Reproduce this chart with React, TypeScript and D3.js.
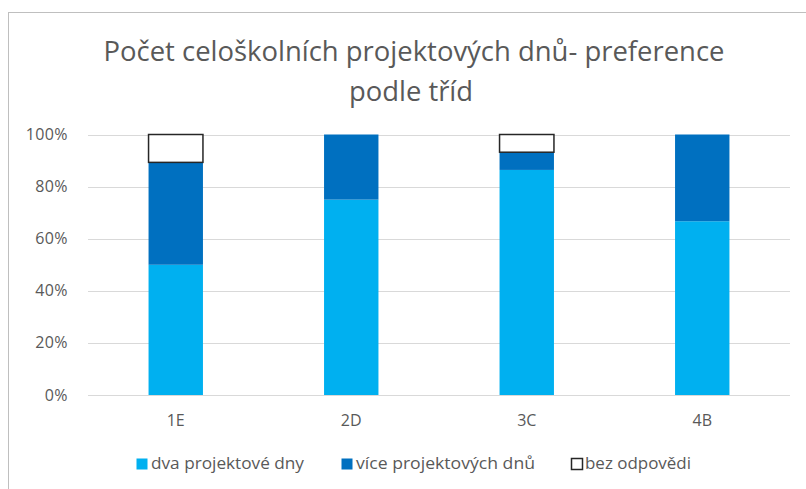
import React from 'react';
import * as d3 from 'd3';

const classes = ['1E', '2D', '3C', '4B'];
const dvaDny = [50, 75, 86.4, 66.7];
const viceDnu = [39.3, 25, 6.8, 33.3];
const bezOdpovedi = [10.7, 0, 6.8, 0];
const yTicks = [0, 20, 40, 60, 80, 100];

const seriesNames = ['dva projektové dny', 'více projektových dnů', 'bez odpovědi'];
const seriesKeys = ['dva', 'vice', 'bez'];
const seriesFill = ['#00B0F0', '#0070C0', '#ffffff'];

const W = 806;
const H = 489;
const font = '"Open Sans", "Noto Sans", sans-serif';

const App = () => {
  const rows = classes.map((c, i) => ({
    cls: c,
    dva: dvaDny[i],
    vice: viceDnu[i],
    bez: bezOdpovedi[i],
  }));
  const stacked = d3.stack<any>().keys(seriesKeys)(rows);

  const x = d3.scaleBand().domain(classes).range([88, 790]).paddingInner(0.69).paddingOuter(0.345);
  const y = d3.scaleLinear().domain([0, 100]).range([395, 134.5]);

  // legend layout
  const legendMarkX = [136, 341, 571];
  const legendTextX = [151, 356, 585];
  const legendTextW = [153, 179, 106];

  return (
    <svg width={W} height={H} style={{position: 'absolute', left: 0, top: 0}}>
      <rect x={0} y={0} width={W} height={H} fill="#fff" />
      {/* chart frame, only top and left edges visible */}
      <line x1={8} y1={12.5} x2={W} y2={12.5} stroke="#bfbfbf" />
      <line x1={8.5} y1={12} x2={8.5} y2={H} stroke="#bfbfbf" />

      <text x={414} y={61} textAnchor="middle" fontFamily={font} fontSize={27} fill="#595959"
        textLength={621} lengthAdjust="spacingAndGlyphs">
        Počet celoškolních projektových dnů- preference
      </text>
      <text x={411} y={101} textAnchor="middle" fontFamily={font} fontSize={27} fill="#595959"
        textLength={124} lengthAdjust="spacingAndGlyphs">
        podle tříd
      </text>

      {yTicks.map(t => (
        <g key={t}>
          <line x1={88} x2={790} y1={Math.round(y(t)) + 0.5} y2={Math.round(y(t)) + 0.5} stroke="#d9d9d9" strokeWidth={1.2} />
          <text x={68} y={y(t) + 5.5} textAnchor="end" fontFamily={font} fontSize={16} letterSpacing={0.4} fill="#595959">
            {t}%
          </text>
        </g>
      ))}

      {stacked.map((s, si) => (
        <g key={s.key}>
          {s.map((d, i) => (
            <rect
              key={i}
              x={x(classes[i])}
              y={y(d[1])}
              width={x.bandwidth()}
              height={Math.max(0, y(d[0]) - y(d[1]))}
              fill={seriesFill[si]}
              stroke={si === 2 ? '#262626' : 'none'}
              strokeWidth={si === 2 ? 1.5 : 0}
            />
          ))}
        </g>
      ))}

      {classes.map(c => (
        <text key={c} x={x(c)! + x.bandwidth() / 2} y={426} textAnchor="middle" fontFamily={font} fontSize={16} fill="#595959">
          {c}
        </text>
      ))}

      {seriesNames.map((n, i) => (
        <g key={n}>
          <rect
            x={legendMarkX[i] + 0.5}
            y={458.5}
            width={11}
            height={11}
            fill={seriesFill[i]}
            stroke={i === 2 ? '#262626' : 'none'}
            strokeWidth={1.5}
          />
          <text x={legendTextX[i]} y={469} fontFamily={font} fontSize={16.5} fill="#595959"
            textLength={legendTextW[i]} lengthAdjust="spacingAndGlyphs">
            {n}
          </text>
        </g>
      ))}
    </svg>
  );
};

export default App;
